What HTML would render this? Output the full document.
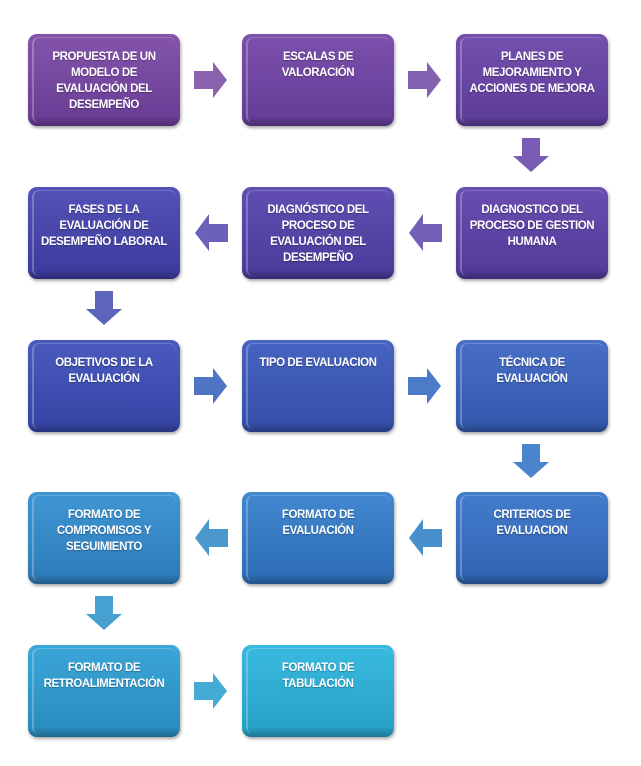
<!DOCTYPE html>
<html><head><meta charset="utf-8"><style>
body{margin:0;background:#fff;width:641px;height:766px;position:relative;overflow:hidden;font-family:"Liberation Sans",sans-serif}
.b{position:absolute;width:152px;height:92px;border-radius:9px;box-sizing:border-box;padding:15px 0 0;text-align:center;color:#fff;font-weight:bold;font-size:11.5px;line-height:16px;letter-spacing:-0.4px;white-space:nowrap;box-shadow:1px 2px 3px rgba(0,0,0,.35);text-shadow:0 1px 1px rgba(0,0,0,.3)}
.b::before{content:"";position:absolute;left:4px;right:4px;top:3px;bottom:3px;border-radius:7px;border-left:2px solid rgba(255,255,255,.25);border-top:1px solid rgba(255,255,255,.2);pointer-events:none}
.b::after{content:"";position:absolute;left:0;right:0;bottom:0;height:10px;border-radius:0 0 9px 9px;background:linear-gradient(rgba(0,0,0,0),rgba(0,0,0,.25))}
svg{position:absolute;left:0;top:0}
</style></head><body>
<svg width="641" height="766">
<polygon points="194,71 213,71 213,62 227,80 213,98 213,89 194,89" fill="#8a62ae"/>
<polygon points="408,71 427,71 427,62 441,80 427,98 427,89 408,89" fill="#8460b0"/>
<polygon points="522,138 540,138 540,156 549,156 531,172 513,156 522,156" fill="#7a5cb4"/>
<polygon points="442,224 423,224 423,214 409,233 423,251 423,242 442,242" fill="#7460b8"/>
<polygon points="228,224 209,224 209,214 195,233 209,251 209,242 228,242" fill="#6a62ba"/>
<polygon points="95,291 113,291 113,309 122,309 104,325 86,309 95,309" fill="#5c64bc"/>
<polygon points="194,377 213,377 213,368 227,386 213,404 213,395 194,395" fill="#5074c4"/>
<polygon points="408,377 427,377 427,368 441,386 427,404 427,395 408,395" fill="#4c7cc8"/>
<polygon points="522,444 540,444 540,462 549,462 531,478 513,462 522,462" fill="#4a84cc"/>
<polygon points="442,529 423,529 423,519 409,538 423,556 423,547 442,547" fill="#4890cc"/>
<polygon points="228,529 209,529 209,519 195,538 209,556 209,547 228,547" fill="#4a98cc"/>
<polygon points="95,596 113,596 113,614 122,614 104,630 86,614 95,614" fill="#46a0d0"/>
<polygon points="194,682 213,682 213,673 227,691 213,709 213,700 194,700" fill="#44acd4"/>
</svg>
<div class="b" style="left:28px;top:34px;background:linear-gradient(#8454ac,#683c94)">PROPUESTA DE UN<br>MODELO DE<br>EVALUACIÓN DEL<br>DESEMPEÑO</div>
<div class="b" style="left:242px;top:34px;background:linear-gradient(#7c50ac,#623c96)">ESCALAS DE<br>VALORACIÓN</div>
<div class="b" style="left:456px;top:34px;background:linear-gradient(#7450ae,#5c3c98)">PLANES DE<br>MEJORAMIENTO Y<br>ACCIONES DE MEJORA</div>
<div class="b" style="left:28px;top:187px;background:linear-gradient(#5452b6,#3c3a9c)">FASES DE LA<br>EVALUACIÓN DE<br>DESEMPEÑO LABORAL</div>
<div class="b" style="left:242px;top:187px;background:linear-gradient(#624eb2,#483a9a)">DIAGNÓSTICO DEL<br>PROCESO DE<br>EVALUACIÓN DEL<br>DESEMPEÑO</div>
<div class="b" style="left:456px;top:187px;background:linear-gradient(#6a4eb0,#503a98)">DIAGNOSTICO DEL<br>PROCESO DE GESTION<br>HUMANA</div>
<div class="b" style="left:28px;top:340px;background:linear-gradient(#4a5abe,#3444a4)">OBJETIVOS DE LA<br>EVALUACIÓN</div>
<div class="b" style="left:242px;top:340px;background:linear-gradient(#4864c2,#324ea8)">TIPO DE EVALUACION</div>
<div class="b" style="left:456px;top:340px;background:linear-gradient(#486ec6,#3258ac)">TÉCNICA DE<br>EVALUACIÓN</div>
<div class="b" style="left:28px;top:492px;background:linear-gradient(#4096d4,#2c7ab8)">FORMATO DE<br>COMPROMISOS Y<br>SEGUIMIENTO</div>
<div class="b" style="left:242px;top:492px;background:linear-gradient(#4288d0,#2c6cb4)">FORMATO DE<br>EVALUACIÓN</div>
<div class="b" style="left:456px;top:492px;background:linear-gradient(#447ccc,#2e62b0)">CRITERIOS DE<br>EVALUACION</div>
<div class="b" style="left:28px;top:645px;background:linear-gradient(#3ca6d8,#288abc)">FORMATO DE<br>RETROALIMENTACIÓN</div>
<div class="b" style="left:242px;top:645px;background:linear-gradient(#3abae0,#269ec4)">FORMATO DE<br>TABULACIÓN</div>
</body></html>
